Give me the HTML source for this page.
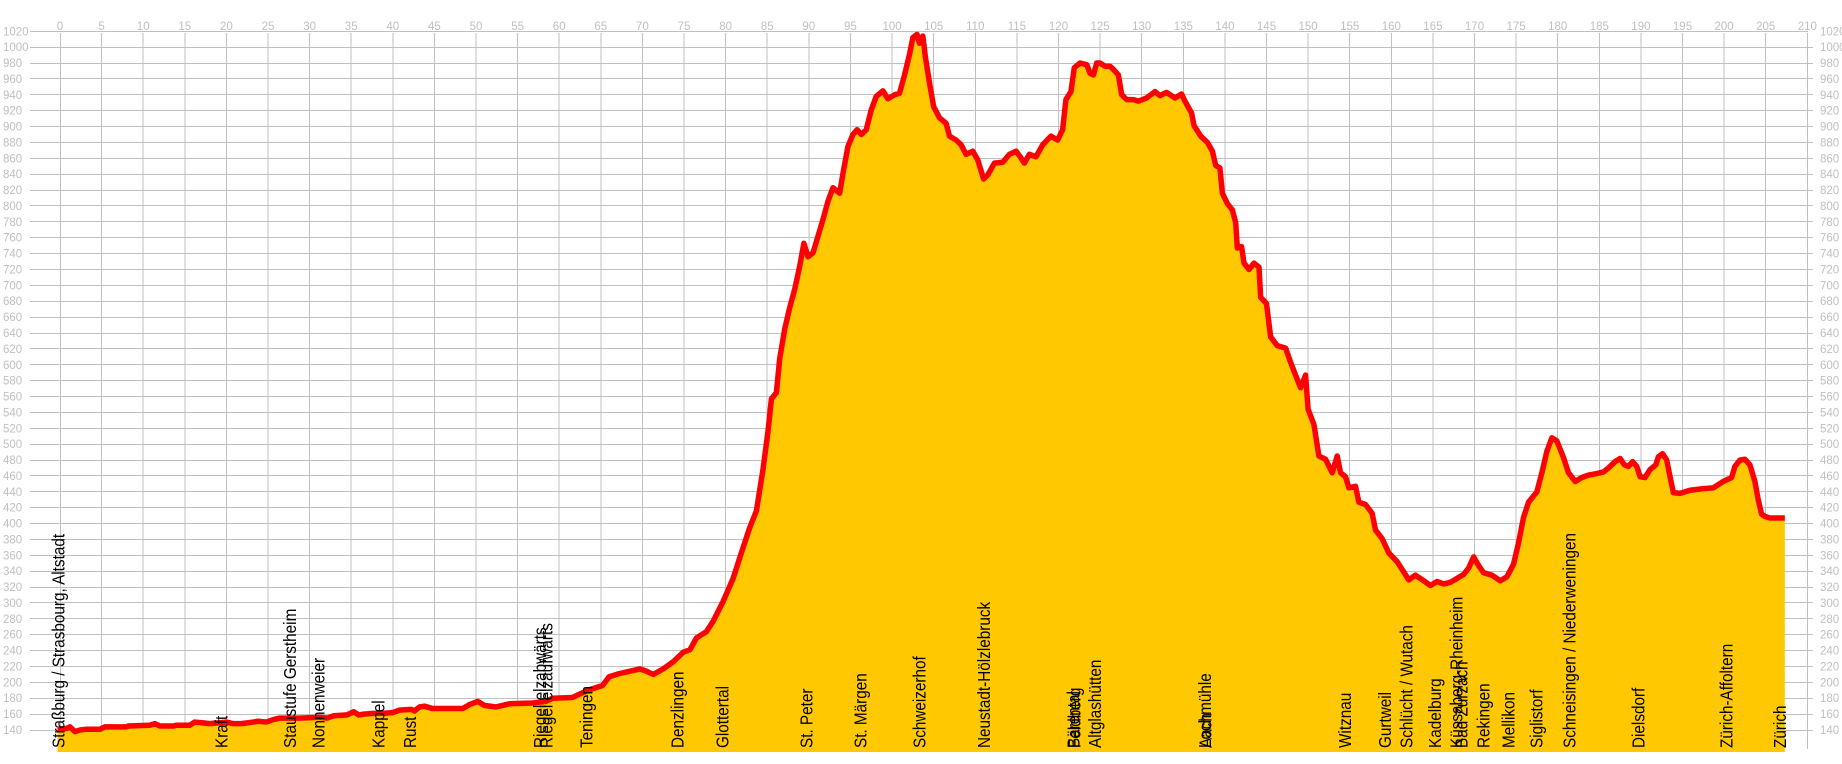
<!DOCTYPE html>
<html>
<head>
<meta charset="utf-8">
<style>
html,body{margin:0;padding:0;background:#fff;}
svg{display:block;}
.ax{font-family:"Liberation Sans",sans-serif;font-size:11.5px;fill:#c0c0c0;}
.lb{font-family:"Liberation Sans","DejaVu Sans",sans-serif;font-size:15.3px;fill:#000;}
</style>
</head>
<body>
<svg width="1842" height="764" viewBox="0 0 1842 764" xmlns="http://www.w3.org/2000/svg">
<rect x="0" y="0" width="1842" height="764" fill="#fff"/>
<!-- vertical grid -->
<path shape-rendering="crispEdges" stroke="#c0c0c0" stroke-width="1" fill="none" d="M60.5 33V749M101.6 33V749M143.2 33V749M184.8 33V749M226.4 33V749M268 33V749M309.6 33V749M351.2 33V749M392.8 33V749M434.4 33V749M476 33V749M517.6 33V749M559.2 33V749M600.8 33V749M642.4 33V749M684 33V749M725.6 33V749M767.2 33V749M808.8 33V749M850.4 33V749M892.1 33V749M933.7 33V749M975.3 33V749M1016.9 33V749M1058.5 33V749M1100.1 33V749M1141.7 33V749M1183.3 33V749M1224.9 33V749M1266.5 33V749M1308.1 33V749M1349.7 33V749M1391.3 33V749M1432.9 33V749M1474.5 33V749M1516.1 33V749M1557.7 33V749M1599.3 33V749M1640.9 33V749M1682.5 33V749M1724.1 33V749M1765.7 33V749M1807.5 33V749"/>
<!-- horizontal grid -->
<path shape-rendering="crispEdges" stroke="#c0c0c0" stroke-width="1" fill="none" d="M30 31.5H1808M30 47.5H1813M30 63.5H1813M30 78.5H1813M30 94.5H1813M30 110.5H1813M30 126.5H1813M30 142.5H1813M30 158.5H1813M30 174.5H1813M30 190.5H1813M30 205.5H1813M30 221.5H1813M30 237.5H1813M30 253.5H1813M30 269.5H1813M30 285.5H1813M30 301.5H1813M30 317.5H1813M30 333.5H1813M30 348.5H1813M30 364.5H1813M30 380.5H1813M30 396.5H1813M30 412.5H1813M30 428.5H1813M30 444.5H1813M30 460.5H1813M30 475.5H1813M30 491.5H1813M30 507.5H1813M30 523.5H1813M30 539.5H1813M30 555.5H1813M30 571.5H1813M30 587.5H1813M30 602.5H1813M30 618.5H1813M30 634.5H1813M30 650.5H1813M30 666.5H1813M30 682.5H1813M30 698.5H1813M30 714.5H1813M30 730.5H1813"/>
<!-- top axis labels -->
<g class="ax" text-anchor="middle">
<text x="60" y="30">0</text><text x="101.6" y="30">5</text><text x="143.2" y="30">10</text><text x="184.8" y="30">15</text><text x="226.4" y="30">20</text><text x="268" y="30">25</text><text x="309.6" y="30">30</text><text x="351.2" y="30">35</text><text x="392.8" y="30">40</text><text x="434.4" y="30">45</text><text x="476" y="30">50</text><text x="517.6" y="30">55</text><text x="559.2" y="30">60</text><text x="600.8" y="30">65</text><text x="642.4" y="30">70</text><text x="684" y="30">75</text><text x="725.6" y="30">80</text><text x="767.2" y="30">85</text><text x="808.8" y="30">90</text><text x="850.4" y="30">95</text><text x="892.1" y="30">100</text><text x="933.7" y="30">105</text><text x="975.3" y="30">110</text><text x="1016.9" y="30">115</text><text x="1058.5" y="30">120</text><text x="1100.1" y="30">125</text><text x="1141.7" y="30">130</text><text x="1183.3" y="30">135</text><text x="1224.9" y="30">140</text><text x="1266.5" y="30">145</text><text x="1308.1" y="30">150</text><text x="1349.7" y="30">155</text><text x="1391.3" y="30">160</text><text x="1432.9" y="30">165</text><text x="1474.5" y="30">170</text><text x="1516.1" y="30">175</text><text x="1557.7" y="30">180</text><text x="1599.3" y="30">185</text><text x="1640.9" y="30">190</text><text x="1682.5" y="30">195</text><text x="1724.1" y="30">200</text><text x="1765.7" y="30">205</text><text x="1807.3" y="30">210</text>
</g>
<!-- left axis labels -->
<g class="ax">
<text x="3" y="35.3">1020</text><text x="3" y="51.2">1000</text><text x="3" y="67">980</text><text x="3" y="82.9">960</text><text x="3" y="98.8">940</text><text x="3" y="114.7">920</text><text x="3" y="130.6">900</text><text x="3" y="146.4">880</text><text x="3" y="162.3">860</text><text x="3" y="178.2">840</text><text x="3" y="194.1">820</text><text x="3" y="210">800</text><text x="3" y="225.8">780</text><text x="3" y="241.7">760</text><text x="3" y="257.6">740</text><text x="3" y="273.5">720</text><text x="3" y="289.4">700</text><text x="3" y="305.2">680</text><text x="3" y="321.1">660</text><text x="3" y="337">640</text><text x="3" y="352.9">620</text><text x="3" y="368.8">600</text><text x="3" y="384.6">580</text><text x="3" y="400.5">560</text><text x="3" y="416.4">540</text><text x="3" y="432.3">520</text><text x="3" y="448.2">500</text><text x="3" y="464">480</text><text x="3" y="479.9">460</text><text x="3" y="495.8">440</text><text x="3" y="511.7">420</text><text x="3" y="527.6">400</text><text x="3" y="543.4">380</text><text x="3" y="559.3">360</text><text x="3" y="575.2">340</text><text x="3" y="591.1">320</text><text x="3" y="607">300</text><text x="3" y="622.8">280</text><text x="3" y="638.7">260</text><text x="3" y="654.6">240</text><text x="3" y="670.5">220</text><text x="3" y="686.4">200</text><text x="3" y="702.2">180</text><text x="3" y="718.1">160</text><text x="3" y="734">140</text>
</g>
<!-- right axis labels -->
<g class="ax">
<text x="1820" y="35.3">1020</text><text x="1820" y="51.2">1000</text><text x="1820" y="67">980</text><text x="1820" y="82.9">960</text><text x="1820" y="98.8">940</text><text x="1820" y="114.7">920</text><text x="1820" y="130.6">900</text><text x="1820" y="146.4">880</text><text x="1820" y="162.3">860</text><text x="1820" y="178.2">840</text><text x="1820" y="194.1">820</text><text x="1820" y="210">800</text><text x="1820" y="225.8">780</text><text x="1820" y="241.7">760</text><text x="1820" y="257.6">740</text><text x="1820" y="273.5">720</text><text x="1820" y="289.4">700</text><text x="1820" y="305.2">680</text><text x="1820" y="321.1">660</text><text x="1820" y="337">640</text><text x="1820" y="352.9">620</text><text x="1820" y="368.8">600</text><text x="1820" y="384.6">580</text><text x="1820" y="400.5">560</text><text x="1820" y="416.4">540</text><text x="1820" y="432.3">520</text><text x="1820" y="448.2">500</text><text x="1820" y="464">480</text><text x="1820" y="479.9">460</text><text x="1820" y="495.8">440</text><text x="1820" y="511.7">420</text><text x="1820" y="527.6">400</text><text x="1820" y="543.4">380</text><text x="1820" y="559.3">360</text><text x="1820" y="575.2">340</text><text x="1820" y="591.1">320</text><text x="1820" y="607">300</text><text x="1820" y="622.8">280</text><text x="1820" y="638.7">260</text><text x="1820" y="654.6">240</text><text x="1820" y="670.5">220</text><text x="1820" y="686.4">200</text><text x="1820" y="702.2">180</text><text x="1820" y="718.1">160</text><text x="1820" y="734">140</text>
</g>
<!-- profile -->
<g transform="matrix(8.3205 0 0 -0.794 60 841.16)">
<polygon fill="#ffc800" stroke="none" points="-0.3,112.3 -0.3,141 0.8,142 1.2,144 1.8,138 2.4,140 3.2,141 4.8,141 5.4,144 8.0,144 8.2,145 10.8,146 11.4,148 12.0,145 13.6,145 14.0,146 15.6,146 16.2,150 17.2,149 18.0,148 20.0,150 20.8,148 21.8,148 23.2,150 23.8,151 24.8,150 25.6,153 26.4,155 28.8,155 31.2,156 32.1,155 32.9,158 34.5,159 35.3,163 35.9,159 36.5,160 37.7,161 38.9,161 40.0,162 40.8,165 42.2,166 42.6,164 43.2,169 43.8,170 44.8,167 48.4,167 49.2,172 50.2,176 51,171 52.4,169 54,173 56.8,174 58.4,176 59.2,180 61.6,181 62.8,187 64,192 65.2,196 66,207 67.2,211 68.5,214 69.7,217 70.5,214 71.3,210 72.5,217 73.7,226 74.9,238 75.7,241 76.5,256 77.7,264 78.5,277 79.7,302 80.9,331 81.7,357 82.9,395 83.7,416 84.5,469 85.1,517 85.5,557 86.1,565 86.5,608 87.1,645 87.7,672 88.3,695 88.9,724 89.4,753 89.9,736 90.5,741 91.1,762 91.7,783 92.3,806 92.9,823 93.7,816 94.1,841 94.7,875 95.3,890 95.8,896 96.3,890 96.9,896 97.5,921 98.1,938 98.9,945 99.5,935 100.3,940 100.9,942 101.5,965 102.1,991 102.5,1012 103.0,1016 103.3,1005 103.7,1014 104.0,988 104.5,955 105.0,925 105.7,911 106.5,904 106.9,888 107.7,883 108.3,877 108.9,865 109.7,869 110.3,858 111.0,834 111.5,839 112.3,854 113.3,855 114.1,865 114.9,869 115.4,862 115.9,854 116.5,865 117.3,862 118.1,877 119.1,888 119.9,883 120.5,896 120.9,934 121.5,944 121.9,974 122.6,980 123.4,978 123.8,967 124.2,965 124.6,980 125.0,980 125.6,976 126.2,976 126.6,972 127.2,965 127.6,940 128.2,934 129.0,934 129.6,932 130.6,936 131.6,944 132.2,939 133.0,943 134.0,936 134.8,941 135.2,932 136.0,917 136.3,901 137.1,888 137.9,880 138.5,869 138.9,851 139.4,848 139.7,816 140.3,803 140.9,795 141.3,779 141.5,747 142.0,749 142.3,728 142.9,720 143.5,728 144.1,723 144.3,685 145.0,677 145.5,635 146.3,624 147.3,621 147.9,603 148.5,587 149.1,571 149.7,587 150.0,544 150.7,525 151.3,485 152.1,481 152.9,464 153.5,485 153.9,464 154.5,459 154.9,445 155.7,447 156.1,427 156.9,424 157.7,413 158.1,392 158.9,381 159.7,363 160.7,352 161.5,339 162.1,329 162.9,335 163.9,328 164.7,322 165.5,327 166.3,324 167.1,326 167.9,331 168.7,336 169.3,344 169.9,358 170.5,347 171.1,338 172.1,335 173.1,328 173.9,333 174.7,349 175.3,376 175.9,408 176.5,427 177.5,440 178.1,464 178.7,491 179.3,508 179.9,504 180.7,483 181.3,464 182.1,453 182.9,458 183.7,461 184.7,463 185.5,465 186.1,470 186.9,478 187.5,482 188.0,474 188.5,472 189.0,478 189.5,472 189.9,459 190.5,458 191.1,468 191.8,474 192.1,484 192.6,488 193.1,480 193.5,459 193.9,439 194.7,438 195.9,442 197.5,444 198.7,445 199.9,453 200.9,458 201.3,472 201.9,480 202.5,481 203.1,474 203.7,453 204.1,430 204.5,412 204.9,409 205.5,407 207.3,407 207.3,112.3"/>
<polyline fill="none" stroke="#ff0000" stroke-width="5.5" stroke-linejoin="round" vector-effect="non-scaling-stroke" points="-0.3,141 0.8,142 1.2,144 1.8,138 2.4,140 3.2,141 4.8,141 5.4,144 8.0,144 8.2,145 10.8,146 11.4,148 12.0,145 13.6,145 14.0,146 15.6,146 16.2,150 17.2,149 18.0,148 20.0,150 20.8,148 21.8,148 23.2,150 23.8,151 24.8,150 25.6,153 26.4,155 28.8,155 31.2,156 32.1,155 32.9,158 34.5,159 35.3,163 35.9,159 36.5,160 37.7,161 38.9,161 40.0,162 40.8,165 42.2,166 42.6,164 43.2,169 43.8,170 44.8,167 48.4,167 49.2,172 50.2,176 51,171 52.4,169 54,173 56.8,174 58.4,176 59.2,180 61.6,181 62.8,187 64,192 65.2,196 66,207 67.2,211 68.5,214 69.7,217 70.5,214 71.3,210 72.5,217 73.7,226 74.9,238 75.7,241 76.5,256 77.7,264 78.5,277 79.7,302 80.9,331 81.7,357 82.9,395 83.7,416 84.5,469 85.1,517 85.5,557 86.1,565 86.5,608 87.1,645 87.7,672 88.3,695 88.9,724 89.4,753 89.9,736 90.5,741 91.1,762 91.7,783 92.3,806 92.9,823 93.7,816 94.1,841 94.7,875 95.3,890 95.8,896 96.3,890 96.9,896 97.5,921 98.1,938 98.9,945 99.5,935 100.3,940 100.9,942 101.5,965 102.1,991 102.5,1012 103.0,1016 103.3,1005 103.7,1014 104.0,988 104.5,955 105.0,925 105.7,911 106.5,904 106.9,888 107.7,883 108.3,877 108.9,865 109.7,869 110.3,858 111.0,834 111.5,839 112.3,854 113.3,855 114.1,865 114.9,869 115.4,862 115.9,854 116.5,865 117.3,862 118.1,877 119.1,888 119.9,883 120.5,896 120.9,934 121.5,944 121.9,974 122.6,980 123.4,978 123.8,967 124.2,965 124.6,980 125.0,980 125.6,976 126.2,976 126.6,972 127.2,965 127.6,940 128.2,934 129.0,934 129.6,932 130.6,936 131.6,944 132.2,939 133.0,943 134.0,936 134.8,941 135.2,932 136.0,917 136.3,901 137.1,888 137.9,880 138.5,869 138.9,851 139.4,848 139.7,816 140.3,803 140.9,795 141.3,779 141.5,747 142.0,749 142.3,728 142.9,720 143.5,728 144.1,723 144.3,685 145.0,677 145.5,635 146.3,624 147.3,621 147.9,603 148.5,587 149.1,571 149.7,587 150.0,544 150.7,525 151.3,485 152.1,481 152.9,464 153.5,485 153.9,464 154.5,459 154.9,445 155.7,447 156.1,427 156.9,424 157.7,413 158.1,392 158.9,381 159.7,363 160.7,352 161.5,339 162.1,329 162.9,335 163.9,328 164.7,322 165.5,327 166.3,324 167.1,326 167.9,331 168.7,336 169.3,344 169.9,358 170.5,347 171.1,338 172.1,335 173.1,328 173.9,333 174.7,349 175.3,376 175.9,408 176.5,427 177.5,440 178.1,464 178.7,491 179.3,508 179.9,504 180.7,483 181.3,464 182.1,453 182.9,458 183.7,461 184.7,463 185.5,465 186.1,470 186.9,478 187.5,482 188.0,474 188.5,472 189.0,478 189.5,472 189.9,459 190.5,458 191.1,468 191.8,474 192.1,484 192.6,488 193.1,480 193.5,459 193.9,439 194.7,438 195.9,442 197.5,444 198.7,445 199.9,453 200.9,458 201.3,472 201.9,480 202.5,481 203.1,474 203.7,453 204.1,430 204.5,412 204.9,409 205.5,407 207.3,407"/>
</g>
<!-- place labels -->
<g class="lb">
<text transform="translate(64.3,748) rotate(-90) scale(1,1.15)">Straßburg / Strasbourg, Altstadt</text>
<text transform="translate(227.6,748) rotate(-90) scale(1,1.15)">Kraft</text>
<text transform="translate(295.9,748) rotate(-90) scale(1,1.15)">Staustufe Gerstheim</text>
<text transform="translate(324.3,748) rotate(-90) scale(1,1.15)">Nonnenweier</text>
<text transform="translate(384.3,748) rotate(-90) scale(1,1.15)">Kappel</text>
<text transform="translate(415.9,748) rotate(-90) scale(1,1.15)">Rust</text>
<text transform="translate(545.9,748) rotate(-90) scale(1,1.15)">Riegel elzabwärts</text>
<text transform="translate(552.6,748) rotate(-90) scale(1,1.15)">Riegel elzaufwärts</text>
<text transform="translate(592.6,748) rotate(-90) scale(1,1.15)">Teningen</text>
<text transform="translate(683.6,748) rotate(-90) scale(1,1.15)">Denzlingen</text>
<text transform="translate(728.3,748) rotate(-90) scale(1,1.15)">Glottertal</text>
<text transform="translate(812.6,748) rotate(-90) scale(1,1.15)">St. Peter</text>
<text transform="translate(866.6,748) rotate(-90) scale(1,1.15)">St. Märgen</text>
<text transform="translate(925.3,748) rotate(-90) scale(1,1.15)">Schweizerhof</text>
<text transform="translate(989.9,748) rotate(-90) scale(1,1.15)">Neustadt-Hölzlebruck</text>
<text transform="translate(1079.3,748) rotate(-90) scale(1,1.15)">Bärental</text>
<text transform="translate(1080.3,748) rotate(-90) scale(1,1.15)">Feldberg</text>
<text transform="translate(1100.9,748) rotate(-90) scale(1,1.15)">Altglashütten</text>
<text transform="translate(1210.9,748) rotate(-90) scale(1,1.15)">Lochmühle</text>
<text transform="translate(1211.5,748) rotate(-90) scale(1,1.15)">Aach</text>
<text transform="translate(1350.9,748) rotate(-90) scale(1,1.15)">Witznau</text>
<text transform="translate(1390.9,748) rotate(-90) scale(1,1.15)">Gurtweil</text>
<text transform="translate(1412.6,748) rotate(-90) scale(1,1.15)">Schlücht / Wutach</text>
<text transform="translate(1440.9,748) rotate(-90) scale(1,1.15)">Kadelburg</text>
<text transform="translate(1462.6,748) rotate(-90) scale(1,1.15)">Küssaberg-Rheinheim</text>
<text transform="translate(1467.6,748) rotate(-90) scale(1,1.15)">Bad Zurzach</text>
<text transform="translate(1489.3,748) rotate(-90) scale(1,1.15)">Rekingen</text>
<text transform="translate(1514.3,748) rotate(-90) scale(1,1.15)">Mellikon</text>
<text transform="translate(1542.6,748) rotate(-90) scale(1,1.15)">Siglistorf</text>
<text transform="translate(1575.3,748) rotate(-90) scale(1,1.15)">Schneisingen / Niederweningen</text>
<text transform="translate(1644.3,748) rotate(-90) scale(1,1.15)">Dielsdorf</text>
<text transform="translate(1732.6,748) rotate(-90) scale(1,1.15)">Zürich-Affoltern</text>
<text transform="translate(1786,748) rotate(-90) scale(1,1.15)">Zürich</text>
</g>
</svg>
</body>
</html>
